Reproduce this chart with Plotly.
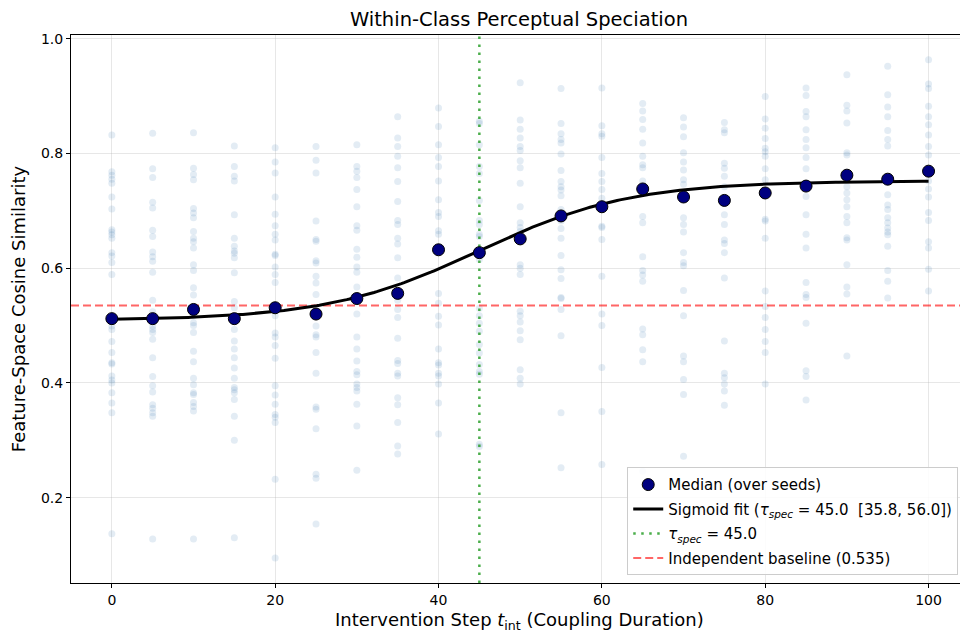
import numpy as np
import plotly.graph_objects as go

steps = [0, 5, 10, 15, 20, 25, 30, 35, 40, 45, 50, 55, 60, 65, 70, 75, 80, 85, 90, 95, 100]

s000 = [0.832, 0.768, 0.762, 0.755, 0.748, 0.724, 0.703, 0.667, 0.663, 0.658, 0.652, 0.627, 0.621, 0.610, 0.589,
        0.513, 0.499, 0.493, 0.472, 0.453, 0.435, 0.433, 0.412, 0.405, 0.400, 0.383, 0.365, 0.348, 0.137]
s005 = [0.835, 0.773, 0.758, 0.715, 0.705, 0.666, 0.655, 0.628, 0.620, 0.612, 0.593, 0.544, 0.524, 0.512, 0.499,
        0.493, 0.488, 0.476, 0.444, 0.411, 0.395, 0.384, 0.362, 0.356, 0.348, 0.342, 0.128]
s010 = [0.836, 0.774, 0.763, 0.754, 0.704, 0.696, 0.688, 0.664, 0.652, 0.646, 0.635, 0.606, 0.596, 0.566, 0.553,
        0.528, 0.517, 0.505, 0.500, 0.488, 0.455, 0.437, 0.408, 0.397, 0.383, 0.380, 0.366, 0.359, 0.351, 0.128]
s015 = [0.813, 0.777, 0.760, 0.752, 0.693, 0.652, 0.638, 0.630, 0.626, 0.618, 0.592, 0.542, 0.531, 0.512, 0.493,
        0.473, 0.459, 0.444, 0.426, 0.408, 0.392, 0.388, 0.383, 0.371, 0.342, 0.300, 0.130]
s020 = [0.810, 0.785, 0.766, 0.724, 0.694, 0.674, 0.659, 0.649, 0.624, 0.622, 0.602, 0.589, 0.575, 0.531, 0.517,
        0.487, 0.480, 0.465, 0.443, 0.395, 0.379, 0.363, 0.345, 0.340, 0.331, 0.232, 0.095]
s025 = [0.812, 0.788, 0.766, 0.682, 0.650, 0.647, 0.613, 0.609, 0.586, 0.574, 0.554, 0.520, 0.517, 0.499, 0.484,
        0.480, 0.453, 0.417, 0.358, 0.354, 0.320, 0.241, 0.234, 0.154]
s030 = [0.815, 0.777, 0.769, 0.758, 0.737, 0.707, 0.674, 0.666, 0.633, 0.619, 0.602, 0.593, 0.567, 0.547, 0.520,
        0.480, 0.459, 0.438, 0.420, 0.414, 0.398, 0.392, 0.386, 0.363, 0.325, 0.248]
s035 = [0.864, 0.827, 0.812, 0.795, 0.775, 0.751, 0.716, 0.683, 0.676, 0.652, 0.642, 0.618, 0.583, 0.556, 0.544,
        0.528, 0.514, 0.478, 0.439, 0.434, 0.417, 0.412, 0.374, 0.362, 0.331, 0.290, 0.276]
s040 = [0.879, 0.847, 0.815, 0.793, 0.777, 0.752, 0.719, 0.697, 0.690, 0.665, 0.659, 0.632, 0.556, 0.539, 0.516,
        0.501, 0.459, 0.435, 0.431, 0.417, 0.412, 0.398, 0.365, 0.311]
s045 = [0.856, 0.852, 0.815, 0.777, 0.765, 0.718, 0.683, 0.676, 0.659, 0.655, 0.627, 0.615, 0.530, 0.517, 0.504,
        0.490, 0.467, 0.452, 0.432, 0.420, 0.415, 0.293, 0.289]
s050 = [0.923, 0.858, 0.842, 0.827, 0.812, 0.805, 0.787, 0.775, 0.748, 0.707, 0.679, 0.671, 0.664, 0.651, 0.606,
        0.600, 0.589, 0.525, 0.517, 0.506, 0.491, 0.475, 0.423, 0.408, 0.398]
s055 = [0.913, 0.852, 0.834, 0.824, 0.818, 0.799, 0.770, 0.751, 0.742, 0.736, 0.726, 0.702, 0.691, 0.682, 0.669,
        0.652, 0.622, 0.597, 0.582, 0.549, 0.547, 0.528, 0.482, 0.348, 0.252]
s060 = [0.914, 0.848, 0.834, 0.830, 0.793, 0.765, 0.751, 0.737, 0.722, 0.712, 0.707, 0.702, 0.673, 0.671, 0.650,
        0.586, 0.520, 0.500, 0.427, 0.350, 0.258]
s065 = [0.887, 0.874, 0.859, 0.842, 0.818, 0.795, 0.780, 0.775, 0.752, 0.738, 0.690, 0.679, 0.620, 0.596, 0.588,
        0.577, 0.494, 0.484, 0.458, 0.437, 0.246]
s070 = [0.862, 0.846, 0.829, 0.801, 0.785, 0.771, 0.754, 0.746, 0.724, 0.688, 0.676, 0.663, 0.627, 0.610, 0.604,
        0.561, 0.517, 0.447, 0.437, 0.406, 0.380, 0.272]
s075 = [0.854, 0.841, 0.836, 0.783, 0.774, 0.760, 0.742, 0.718, 0.693, 0.676, 0.649, 0.643, 0.627, 0.583, 0.473,
        0.417, 0.409, 0.398, 0.386, 0.361]
s080 = [0.899, 0.860, 0.844, 0.826, 0.809, 0.803, 0.795, 0.773, 0.754, 0.731, 0.685, 0.682, 0.652, 0.560, 0.533,
        0.514, 0.493, 0.472, 0.453, 0.398]
s085 = [0.914, 0.901, 0.873, 0.864, 0.841, 0.824, 0.810, 0.793, 0.773, 0.743, 0.725, 0.693, 0.659, 0.635, 0.575,
        0.554, 0.549, 0.504, 0.421, 0.411, 0.370]
s090 = [0.937, 0.884, 0.874, 0.853, 0.801, 0.797, 0.763, 0.742, 0.731, 0.719, 0.707, 0.690, 0.679, 0.653, 0.649,
        0.606, 0.567, 0.555, 0.447]
s095 = [0.952, 0.902, 0.881, 0.864, 0.840, 0.824, 0.813, 0.755, 0.728, 0.710, 0.702, 0.688, 0.679, 0.670, 0.663,
        0.658, 0.638, 0.596, 0.577, 0.548]
s100 = [0.963, 0.921, 0.913, 0.882, 0.864, 0.850, 0.832, 0.812, 0.797, 0.769, 0.752, 0.738, 0.724, 0.697, 0.683,
        0.646, 0.635, 0.598, 0.560]

seed_columns = [s000, s005, s010, s015, s020, s025, s030, s035, s040, s045, s050,
                s055, s060, s065, s070, s075, s080, s085, s090, s095, s100]

medians = [0.512, 0.512, 0.528, 0.512, 0.531, 0.520, 0.547, 0.556, 0.632, 0.627, 0.651,
           0.691, 0.707, 0.738, 0.724, 0.718, 0.731, 0.743, 0.762, 0.755, 0.769]

# sigmoid fit parameters
fit_low, fit_high, tau_spec, fit_width = 0.509, 0.752, 45.0, 9.3
ci_low, ci_high = 35.8, 56.0
baseline = 0.535

x_range = [-5, 103.85]
y_range = [0.0513, 1.0063]

scatter_x = []
scatter_y = []
for st, col in zip(steps, seed_columns):
    scatter_x.extend([st] * len(col))
    scatter_y.extend(col)

xf = np.linspace(0, 100, 300)
yf = fit_low + (fit_high - fit_low) / (1 + np.exp(-(xf - tau_spec) / fit_width))

fig = go.Figure()
fig.add_trace(go.Scatter(
    x=scatter_x, y=scatter_y, mode="markers", showlegend=False, hoverinfo="skip",
    marker=dict(size=7, color="rgba(70,130,180,0.15)", line=dict(width=0)),
))
fig.add_trace(go.Scatter(
    x=x_range, y=[baseline, baseline], mode="lines", name=f"Independent baseline ({baseline:.3f})",
    line=dict(color="rgba(255,0,0,0.6)", width=2, dash="8px,4px"), legendrank=4, legendgroup="d",
))
fig.add_trace(go.Scatter(
    x=[tau_spec, tau_spec], y=y_range, mode="lines",
    name=f"<i>τ<sub>spec</sub></i> = {tau_spec:.1f}",
    line=dict(color="rgba(44,160,44,0.85)", width=2.5, dash="2.5px,5.5px"), legendrank=3, legendgroup="c",
))
fig.add_trace(go.Scatter(
    x=xf, y=yf, mode="lines",
    name=f"Sigmoid fit (<i>τ<sub>spec</sub></i> = {tau_spec:.1f}  [{ci_low:.1f}, {ci_high:.1f}])",
    line=dict(color="black", width=3), legendrank=2, legendgroup="b",
))
fig.add_trace(go.Scatter(
    x=steps, y=medians, mode="markers", name="Median (over seeds)",
    marker=dict(size=12, color="#000080", line=dict(color="black", width=1)), legendrank=1, legendgroup="a",
))

font = "DejaVu Sans, Liberation Sans, sans-serif"
fig.update_layout(
    width=960, height=635,
    margin=dict(l=71, r=0, t=35, b=52, autoexpand=False),
    paper_bgcolor="white", plot_bgcolor="white",
    font=dict(family=font, size=14, color="black"),
    title=dict(text="Within-Class Perceptual Speciation", x=519 / 960, xref="container", xanchor="center",
               y=1 - 19 / 635, yref="container", yanchor="middle", font=dict(size=19.5)),
    showlegend=True,
    legend=dict(x=0.998, xanchor="right", y=0.014, yanchor="bottom", traceorder="grouped",
                bgcolor="rgba(255,255,255,0.85)", bordercolor="#cccccc", borderwidth=1,
                font=dict(size=15), tracegroupgap=2, itemwidth=30),
    annotations=[dict(text="Intervention Step <i>t</i><sub>int</sub> (Coupling Duration)",
                      x=(519 - 71) / 889, xref="paper", xanchor="center",
                      y=-(621 - 582.7) / 547.7, yref="paper", yanchor="middle",
                      showarrow=False, font=dict(size=18))],
)

fig.update_xaxes(range=x_range, tickvals=[0, 20, 40, 60, 80, 100], ticks="outside", ticklen=4,
                 tickcolor="black", showline=True, linecolor="black", linewidth=1.1, mirror=True,
                 showgrid=True, gridcolor="rgba(176,176,176,0.3)", gridwidth=1, zeroline=False,
                 tickfont=dict(size=14))
fig.update_yaxes(range=y_range, tickvals=[0.2, 0.4, 0.6, 0.8, 1.0], tickformat=".1f", ticks="outside",
                 ticklen=4, tickcolor="black", showline=True, linecolor="black", linewidth=1.1, mirror=False,
                 showgrid=True, gridcolor="rgba(176,176,176,0.3)", gridwidth=1, zeroline=False,
                 tickfont=dict(size=14),
                 title=dict(text="Feature-Space Cosine Similarity", font=dict(size=18), standoff=10))

fig.write_html("out.html", config={"displayModeBar": False},
               post_script="document.body.style.margin='0';document.body.style.padding='0';"
                           "document.documentElement.style.overflow='hidden';")
